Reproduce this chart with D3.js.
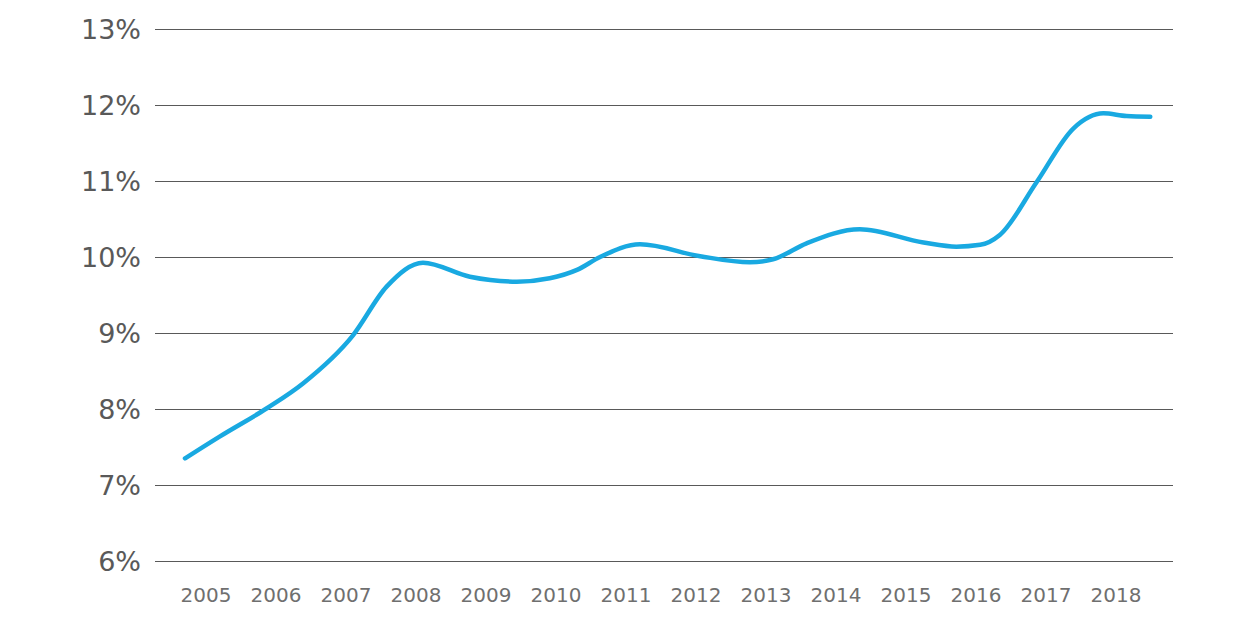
<!DOCTYPE html>
<html>
<head>
<meta charset="utf-8">
<script src="https://cdn.jsdelivr.net/npm/d3@7/dist/d3.min.js"></script>
<style>
  html, body { margin: 0; padding: 0; background: #fff; }
  svg { display: block; }
</style>
</head>
<body>
<script>
// Time position (decimal year) and value (%)
const periods = [2005.20, 2005.70, 2006.37, 2006.89, 2007.60, 2008.08, 2008.60,
  2009.27, 2009.94, 2010.41, 2010.80, 2011.13, 2011.70, 2012.56, 2013.27, 2013.60,
  2014.08, 2014.84, 2015.75, 2016.22, 2016.56, 2016.84, 2017.37, 2017.89, 2018.32, 2018.65, 2018.99];
const values = [7.35, 7.64, 8.01, 8.34, 8.97, 9.61, 9.925,
  9.74, 9.675, 9.72, 9.83, 10.00, 10.167, 10.01, 9.93, 9.97,
  10.18, 10.364, 10.19, 10.136, 10.16, 10.29, 10.99, 11.69, 11.89, 11.855, 11.846];
const years = [2005, 2006, 2007, 2008, 2009, 2010, 2011, 2012, 2013, 2014, 2015, 2016, 2017, 2018];
const yTicks = [6, 7, 8, 9, 10, 11, 12, 13];

const W = 1243, H = 637;
const svg = d3.select("body").append("svg").attr("width", W).attr("height", H);

const x = d3.scaleLinear().domain([2005, 2019]).range([171, 1151]);
const y = d3.scaleLinear().domain([6, 13]).range([561, 29]);
const gridX0 = 155, gridX1 = 1173;

// gridlines
svg.append("g").selectAll("line").data(yTicks).join("line")
  .attr("x1", gridX0).attr("x2", gridX1)
  .attr("y1", d => Math.round(y(d)) + 0.5).attr("y2", d => Math.round(y(d)) + 0.5)
  .attr("stroke", "#595959").attr("stroke-width", 1);

// y labels
svg.append("g").selectAll("text").data(yTicks).join("text")
  .attr("x", 141).attr("y", d => y(d))
  .attr("dy", "0.36em")
  .attr("text-anchor", "end")
  .attr("font-family", "DejaVu Sans, Verdana, sans-serif")
  .attr("font-size", 27)
  .attr("fill", "#595959")
  .text(d => d + "%");

// x labels
svg.append("g").selectAll("text").data(years).join("text")
  .attr("x", d => x(d + 0.5)).attr("y", 602)
  .attr("text-anchor", "middle")
  .attr("font-family", "DejaVu Sans, Verdana, sans-serif")
  .attr("font-size", 20)
  .attr("fill", "#6f6f6f")
  .text(d => d);

// line
const pts = periods.map((p, i) => [p, values[i]]);
const line = d3.line().x(d => x(d[0])).y(d => y(d[1])).curve(d3.curveMonotoneX);
svg.append("path").datum(pts)
  .attr("d", line)
  .attr("fill", "none")
  .attr("stroke", "#19A9E1")
  .attr("stroke-width", 4.5)
  .attr("stroke-linecap", "round")
  .attr("stroke-linejoin", "round");
</script>
</body>
</html>
